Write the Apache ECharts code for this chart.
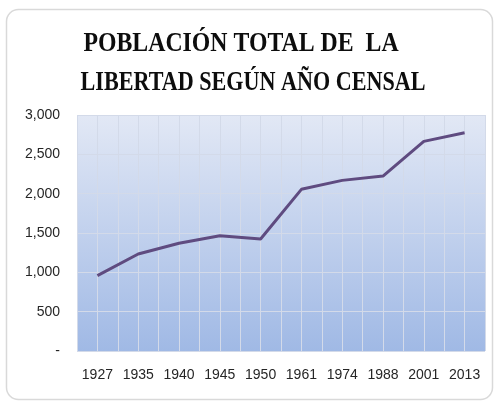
<!DOCTYPE html>
<html>
<head>
<meta charset="utf-8">
<script src="https://cdn.jsdelivr.net/npm/echarts@6/dist/echarts.min.js"></script>
<style>
  html, body { margin: 0; padding: 0; background: #fff; }
  #chart { width: 498px; height: 408px; }
</style>
</head>
<body>
<div id="chart"></div>
<script>
  var years = ['1927', '1935', '1940', '1945', '1950', '1961', '1974', '1988', '2001', '2013'];
  var poblacion = [958, 1233, 1369, 1465, 1423, 2055, 2169, 2224, 2665, 2774];
  var yTicks = [0, 500, 1000, 1500, 2000, 2500, 3000];
  var titleLines = ['POBLACIÓN TOTAL DE  LA', 'LIBERTAD SEGÚN AÑO CENSAL'];

  var chart = echarts.init(document.getElementById('chart'));

  var labelFont = '"Liberation Sans Narrow", "Liberation Sans", sans-serif';
  var gridColor = '#d3dae9';

  // title drawn as two condensed lines (x center, bottom, squeeze)
  var titleLayout = [
    { x: 241, y: 58, sx: 0.85 },
    { x: 253, y: 97, sx: 0.79 }
  ];
  var titleText = titleLines.map(function (t, i) {
    var l = titleLayout[i];
    return {
      type: 'text',
      x: l.x,
      y: l.y,
      scaleX: l.sx,
      style: {
        text: t,
        textAlign: 'center',
        textVerticalAlign: 'bottom',
        font: 'bold 28px "Liberation Serif", serif',
        fill: '#0d0d0d'
      }
    };
  });

  var option = {
    animation: false,
    graphic: [{
      type: 'rect',
      shape: { x: 6.5, y: 9.5, width: 486, height: 390, r: 12 },
      style: { fill: 'none', stroke: '#d9d9d9', lineWidth: 1.5 },
      z: -1
    }].concat(titleText),
    grid: {
      left: 77,
      right: 13,
      top: 115,
      bottom: 57,
      show: true,
      borderWidth: 0,
      backgroundColor: {
        type: 'linear', x: 0, y: 0, x2: 0, y2: 1,
        colorStops: [
          { offset: 0, color: '#e2e8f5' },
          { offset: 1, color: '#a0b9e5' }
        ]
      }
    },
    xAxis: [{
      type: 'category',
      data: years,
      boundaryGap: true,
      axisLine: { show: false },
      axisTick: { show: false },
      axisLabel: {
        interval: 0,
        margin: 17,
        fontFamily: labelFont,
        fontSize: 14,
        color: '#262626'
      },
      splitLine: { show: false }
    }, {
      // half-category vertical gridlines
      type: 'value',
      min: 0,
      max: years.length * 2,
      interval: 1,
      position: 'bottom',
      axisLine: { show: false },
      axisTick: { show: false },
      axisLabel: { show: false },
      splitLine: { show: true, lineStyle: { color: gridColor, width: 1 } }
    }],
    yAxis: {
      type: 'value',
      min: yTicks[0],
      max: yTicks[yTicks.length - 1],
      interval: 500,
      axisLine: { show: false },
      axisTick: { show: false },
      axisLabel: {
        margin: 17,
        fontFamily: labelFont,
        fontSize: 14,
        color: '#262626',
        formatter: function (v) {
          return v === 0 ? '-' : v.toLocaleString('en-US');
        }
      },
      splitLine: { show: true, lineStyle: { color: gridColor, width: 1 } }
    },
    series: [{
      type: 'line',
      xAxisIndex: 0,
      data: poblacion,
      symbol: 'none',
      lineStyle: { color: '#5f4b80', width: 3 }
    }]
  };

  chart.setOption(option);
</script>
</body>
</html>
